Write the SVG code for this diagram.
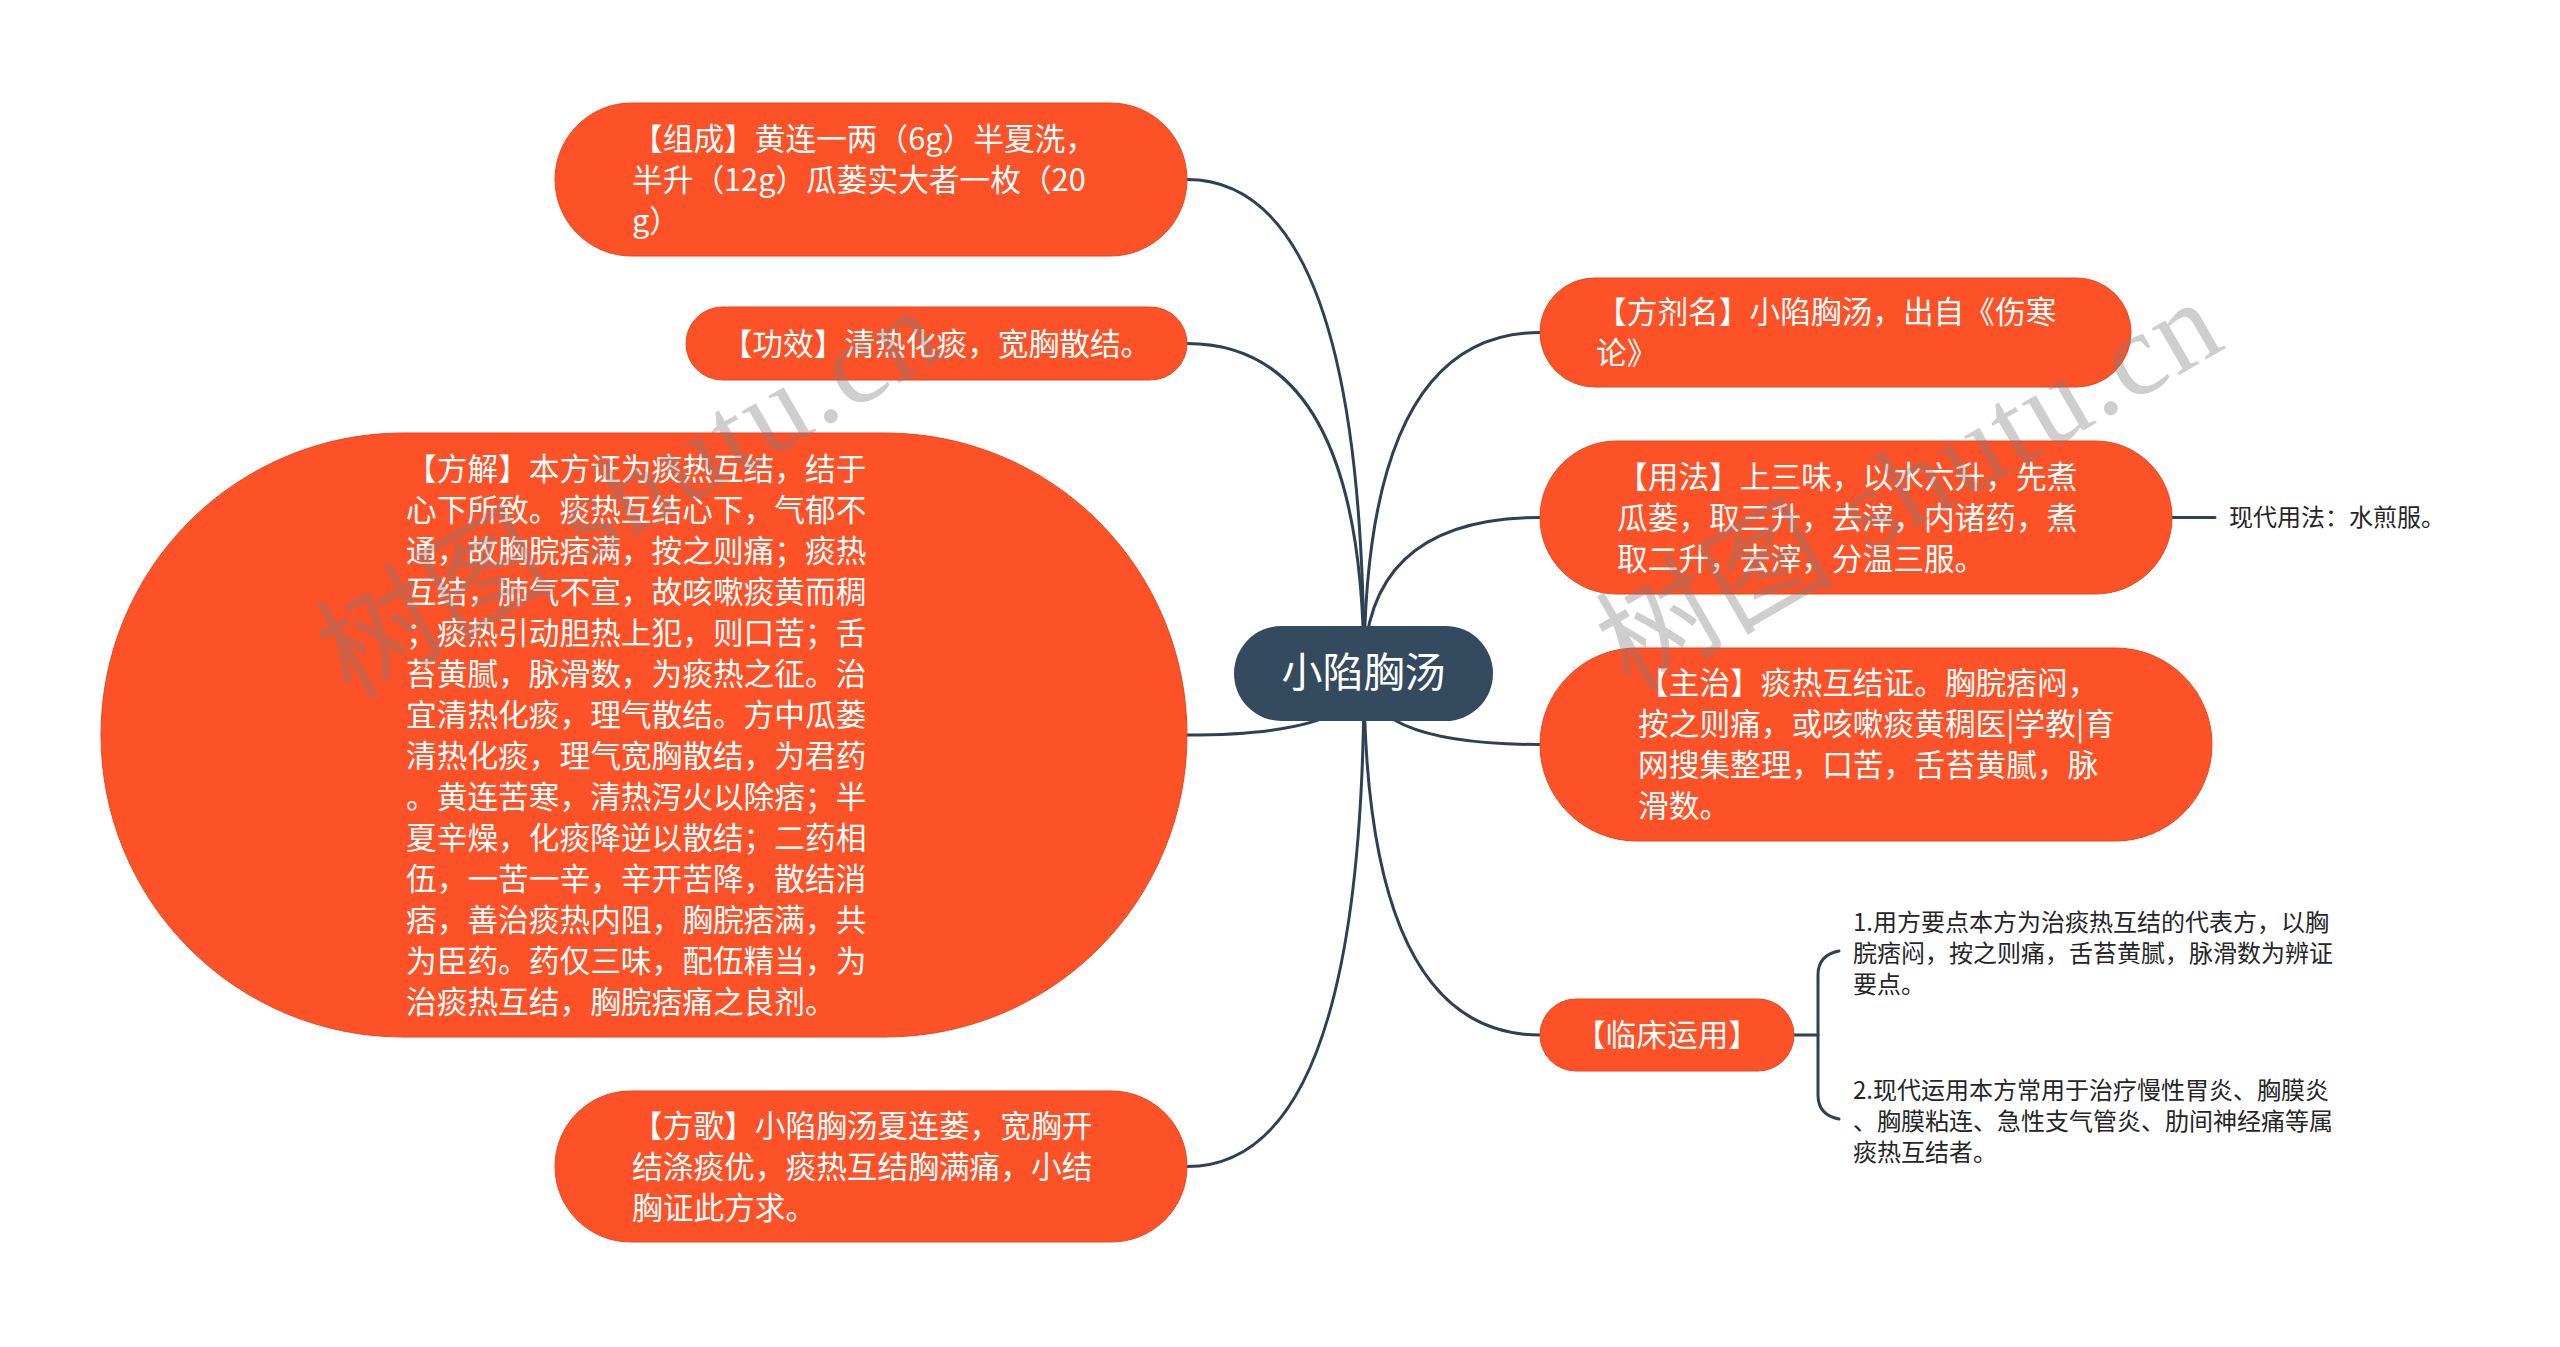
<svg xmlns="http://www.w3.org/2000/svg" width="2560" height="1347" viewBox="0 0 2560 1347">
<defs>
<style>
.node{fill:#FD5128;stroke:#E8461F;stroke-width:1}
.root{fill:#344A5E}
.t{font-family:"Noto Sans CJK SC","Noto Sans",sans-serif;fill:#ffffff;font-size:30.7px}
.rt{font-family:"Noto Sans CJK SC","Noto Sans",sans-serif;fill:#ffffff;font-size:41px}
.sub{font-family:"Noto Sans CJK SC","Noto Sans",sans-serif;fill:#262626;font-size:24px}
.c{fill:none;stroke:#2E4154;stroke-width:3;stroke-linecap:round}
.wm{font-family:"Liberation Serif","Noto Sans CJK SC",serif;font-size:118px;fill:#7f7f7f;fill-opacity:0.38}
</style>
</defs>
<rect width="2560" height="1347" fill="#ffffff"/>
<g id="connectors">
<path class="c" d="M1364 673 Q1364 179.5 1187 179.5"/>
<path class="c" d="M1364 673 Q1364 343.5 1187 343.5"/>
<path class="c" d="M1364 673 Q1364 735 1187 735"/>
<path class="c" d="M1364 673 Q1364 1166.5 1187 1166.5"/>
<path class="c" d="M1364 673 Q1364 332.5 1540 332.5"/>
<path class="c" d="M1364 673 Q1364 517.5 1540 517.5"/>
<path class="c" d="M1364 673 Q1364 744.5 1540 744.5"/>
<path class="c" d="M1364 673 Q1364 1035 1540 1035"/>
<path class="c" d="M2172 517.5 L2215 517.5"/>
<path class="c" d="M1794 1035 L1818 1035"/>
<path class="c" d="M1839 951 Q1818 955 1818 975 L1818 1095 Q1818 1115 1839 1119"/>
</g>
<g id="root">
<rect class="root" x="1234" y="626" width="259" height="95" rx="47.5"/>
<text class="rt" x="1363.5" y="687" text-anchor="middle">小陷胸汤</text>
</g>
<g id="n-zucheng">
<rect class="node" x="555" y="103" width="632" height="153" rx="76.5"/>
<text class="t" x="632" y="149.5">【组成】黄连一两（6g）半夏洗，</text>
<text class="t" x="632" y="190.5">半升（12g）瓜蒌实大者一枚（20</text>
<text class="t" x="632" y="231.5">g）</text>
</g>
<g id="n-gongxiao">
<rect class="node" x="686" y="307" width="501" height="73" rx="36.5"/>
<text class="t" x="936.5" y="354.5" text-anchor="middle">【功效】清热化痰，宽胸散结。</text>
</g>
<g id="n-fangjie">
<rect class="node" x="101" y="433" width="1086" height="604" rx="302"/>
<text class="t" x="406" y="479.5">【方解】本方证为痰热互结，结于</text>
<text class="t" x="406" y="520.5">心下所致。痰热互结心下，气郁不</text>
<text class="t" x="406" y="561.5">通，故胸脘痞满，按之则痛；痰热</text>
<text class="t" x="406" y="602.5">互结，肺气不宣，故咳嗽痰黄而稠</text>
<text class="t" x="406" y="643.5">；痰热引动胆热上犯，则口苦；舌</text>
<text class="t" x="406" y="684.5">苔黄腻，脉滑数，为痰热之征。治</text>
<text class="t" x="406" y="725.5">宜清热化痰，理气散结。方中瓜蒌</text>
<text class="t" x="406" y="766.5">清热化痰，理气宽胸散结，为君药</text>
<text class="t" x="406" y="807.5">。黄连苦寒，清热泻火以除痞；半</text>
<text class="t" x="406" y="848.5">夏辛燥，化痰降逆以散结；二药相</text>
<text class="t" x="406" y="889.5">伍，一苦一辛，辛开苦降，散结消</text>
<text class="t" x="406" y="930.5">痞，善治痰热内阻，胸脘痞满，共</text>
<text class="t" x="406" y="971.5">为臣药。药仅三味，配伍精当，为</text>
<text class="t" x="406" y="1012.5">治痰热互结，胸脘痞痛之良剂。</text>
</g>
<g id="n-fangge">
<rect class="node" x="555" y="1091" width="632" height="151" rx="75.5"/>
<text class="t" x="632" y="1136.5">【方歌】小陷胸汤夏连蒌，宽胸开</text>
<text class="t" x="632" y="1177.5">结涤痰优，痰热互结胸满痛，小结</text>
<text class="t" x="632" y="1218.5">胸证此方求。</text>
</g>
<g id="n-fangjiming">
<rect class="node" x="1540" y="278" width="591" height="109" rx="54.5"/>
<text class="t" x="1596" y="323">【方剂名】小陷胸汤，出自《伤寒</text>
<text class="t" x="1596" y="364">论》</text>
</g>
<g id="n-yongfa">
<rect class="node" x="1540" y="441" width="632" height="153" rx="76.5"/>
<text class="t" x="1617" y="487.5">【用法】上三味，以水六升，先煮</text>
<text class="t" x="1617" y="528.5">瓜蒌，取三升，去滓，内诸药，煮</text>
<text class="t" x="1617" y="569.5">取二升，去滓，分温三服。</text>
</g>
<g id="n-xiandai">
<text class="sub" x="2229" y="526">现代用法：水煎服。</text>
</g>
<g id="n-zhuzhi">
<rect class="node" x="1540" y="648" width="672" height="193" rx="96.5"/>
<text class="t" x="1638" y="694">【主治】痰热互结证。胸脘痞闷，</text>
<text class="t" x="1638" y="735">按之则痛，或咳嗽痰黄稠医|学教|育</text>
<text class="t" x="1638" y="776">网搜集整理，口苦，舌苔黄腻，脉</text>
<text class="t" x="1638" y="817">滑数。</text>
</g>
<g id="n-linchuang">
<rect class="node" x="1540" y="999" width="254" height="72" rx="36"/>
<text class="t" x="1667" y="1046" text-anchor="middle">【临床运用】</text>
</g>
<g id="n-yaodian">
<text class="sub" x="1853" y="930.5">1.用方要点本方为治痰热互结的代表方，以胸</text>
<text class="sub" x="1853" y="961.5">脘痞闷，按之则痛，舌苔黄腻，脉滑数为辨证</text>
<text class="sub" x="1853" y="992.5">要点。</text>
</g>
<g id="n-xiandaiyunyong">
<text class="sub" x="1853" y="1098.5">2.现代运用本方常用于治疗慢性胃炎、胸膜炎</text>
<text class="sub" x="1853" y="1129.5">、胸膜粘连、急性支气管炎、肋间神经痛等属</text>
<text class="sub" x="1853" y="1160.5">痰热互结者。</text>
</g>
<g id="watermark">
<text class="wm" x="350" y="700" transform="rotate(-30 350 700)" textLength="690" lengthAdjust="spacing">树图 shutu.cn</text>
<text class="wm" x="1630" y="692" transform="rotate(-30 1630 692)" textLength="690" lengthAdjust="spacing">树图 shutu.cn</text>
</g>
</svg>
